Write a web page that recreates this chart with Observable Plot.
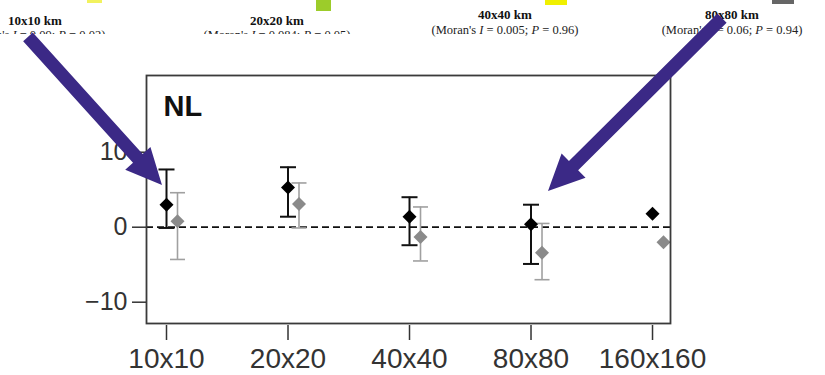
<!DOCTYPE html>
<html><head><meta charset="utf-8">
<script src="https://cdn.jsdelivr.net/npm/d3@7"></script>
<script src="https://cdn.jsdelivr.net/npm/@observablehq/plot@0.6"></script>
<style>
html,body{margin:0;padding:0;background:#fff}
body{width:825px;height:375px;overflow:hidden;position:relative;font-family:"Liberation Sans",Arial,sans-serif}
#header{position:absolute;left:0;top:0;width:825px;height:375px;z-index:0}
#chart{position:absolute;left:0;top:0;width:825px;height:375px;z-index:1}
#chart svg{position:absolute;left:0;top:0}
.hd{position:absolute;font-family:"Liberation Serif","Times New Roman",serif;font-size:12.5px;line-height:12px;color:#222;white-space:nowrap;transform:translateX(-50%)}
.hd.b{font-weight:bold;color:#111;font-size:13px}
.clip{position:absolute;overflow:hidden}
.sw{position:absolute;top:0}
</style></head><body>
<div id="header"></div>
<div id="chart"></div>
<script>
// ---- data ----
const scaleLabels = ["10x10", "20x20", "40x40", "80x80", "160x160"];
const blackMean = [3.0, 5.3, 1.4, 0.4, 1.8];
const blackLow  = [-0.1, 1.4, -2.4, -4.9, null];
const blackHigh = [7.7, 8.0, 4.0, 3.0, null];
const greyMean  = [0.8, 3.1, -1.3, -3.4, -2.0];
const greyLow   = [-4.3, -0.1, -4.5, -7.0, null];
const greyHigh  = [4.6, 5.9, 2.7, 0.5, null];
const yTicks = [-10, 0, 10];
const panelLabel = "NL";
const mapTitles = ["10x10 km", "20x20 km", "40x40 km", "80x80 km"];
const moranI = ["0.09", "0.084", "0.005", "0.06"];
const moranP = ["0.02", "0.05", "0.96", "0.94"];
// annotation arrows in data units (x = scale index, y = value)
const arrowFrom = [[-1.136, 25.3], [4.576, 27.8]];
const arrowTo   = [[-0.033, 5.56], [3.144, 4.76]];

// ---- header (fragments of the figure above) ----
const headerLayout = [
  {cx: 35, ty: 15, my: 29, clip: true},
  {cx: 277, ty: 15, my: 29, clip: true},
  {cx: 505, ty: 9, my: 24, clip: false},
  {cx: 732, ty: 9, my: 24, clip: false}
];
const swatchLayout = [
  {x: 87, w: 15, h: 3, c: "#f2f25e"},
  {x: 316, w: 15, h: 11, c: "#9ccc2a"},
  {x: 545, w: 22, h: 5, c: "#f0f000"},
  {x: 772, w: 22, h: 4, c: "#666"}
];
const header = document.getElementById("header");
swatchLayout.forEach(s => {
  const d = document.createElement("div");
  d.className = "sw";
  Object.assign(d.style, {left: s.x + "px", width: s.w + "px", height: s.h + "px", background: s.c});
  header.appendChild(d);
});
mapTitles.forEach((t, i) => {
  const L = headerLayout[i];
  const a = document.createElement("div");
  a.className = "hd b"; a.textContent = t;
  a.style.left = L.cx + "px"; a.style.top = L.ty + "px";
  header.appendChild(a);
  const m = document.createElement("div");
  m.className = "hd";
  m.innerHTML = `(Moran's <i>I</i> = ${moranI[i]}; <i>P</i> = ${moranP[i]})`;
  if (L.clip) {
    const c = document.createElement("div");
    c.className = "clip";
    Object.assign(c.style, {left: (L.cx - 120) + "px", top: L.my + "px", width: "240px", height: "5px"});
    m.style.left = "120px"; m.style.top = "0px";
    c.appendChild(m);
    header.appendChild(c);
  } else {
    m.style.left = L.cx + "px"; m.style.top = L.my + "px";
    header.appendChild(m);
  }
});

// ---- chart ----
const rows = scaleLabels.map((s, i) => ({
  i, s, bm: blackMean[i], bl: blackLow[i], bh: blackHigh[i],
  gm: greyMean[i], gl: greyLow[i], gh: greyHigh[i]
}));
const blackErr = rows.filter(d => d.bl != null);
const greyErr = rows.filter(d => d.gl != null);
const capSymbol = {draw(ctx, size) { const r = Math.sqrt(size / Math.PI); ctx.moveTo(-r, 0); ctx.lineTo(r, 0); }};
const GDX = 11;
const GREY_BAR = "#a0a0a0";
const GREY_PT = "#8a8a8a";

function arrowMark(index, sc) {
  const g = d3.create("svg:g");
  arrowFrom.forEach((f, k) => {
    const t = arrowTo[k];
    const x1 = sc.x(f[0]), y1 = sc.y(f[1]), x2 = sc.x(t[0]), y2 = sc.y(t[1]);
    const dx = x2 - x1, dy = y2 - y1, L = Math.hypot(dx, dy);
    const ux = dx / L, uy = dy / L, px = -uy, py = ux;
    const hl = 36, hw = 17, sw = 6.5;
    const bx = x2 - ux * hl, by = y2 - uy * hl;
    const pts = [
      [x1 + px * sw, y1 + py * sw], [bx + px * sw, by + py * sw], [bx + px * hw, by + py * hw],
      [x2, y2],
      [bx - px * hw, by - py * hw], [bx - px * sw, by - py * sw], [x1 - px * sw, y1 - py * sw]
    ];
    g.append("polygon").attr("points", pts.map(p => p.join(",")).join(" ")).attr("fill", "#3b2986");
  });
  return g.node();
}

const chart = Plot.plot({
  width: 825, height: 375,
  marginLeft: 146, marginRight: 155, marginTop: 75, marginBottom: 52,
  style: {background: "transparent", fontFamily: "Liberation Sans, Arial, sans-serif", color: "#222", overflow: "visible"},
  x: {type: "linear", domain: [-0.1646, 4.148]},
  y: {domain: [-12.84, 20.23]},
  marks: [
    Plot.ruleY([0], {stroke: "#111", strokeWidth: 1.8, strokeDasharray: "7,4"}),
    Plot.ruleX(greyErr, {x: "i", y1: "gl", y2: "gh", dx: GDX, stroke: GREY_BAR, strokeWidth: 1.6}),
    Plot.dot(greyErr, {x: "i", y: "gl", dx: GDX, symbol: capSymbol, r: 7.5, stroke: GREY_BAR, strokeWidth: 1.6}),
    Plot.dot(greyErr, {x: "i", y: "gh", dx: GDX, symbol: capSymbol, r: 7.5, stroke: GREY_BAR, strokeWidth: 1.6}),
    Plot.dot(rows, {x: "i", y: "gm", dx: GDX, symbol: "diamond2", r: 6.3, fill: GREY_PT, stroke: "none"}),
    Plot.ruleX(blackErr, {x: "i", y1: "bl", y2: "bh", stroke: "#111", strokeWidth: 2}),
    Plot.dot(blackErr, {x: "i", y: "bl", symbol: capSymbol, r: 8, stroke: "#111", strokeWidth: 2}),
    Plot.dot(blackErr, {x: "i", y: "bh", symbol: capSymbol, r: 8, stroke: "#111", strokeWidth: 2}),
    Plot.dot(rows, {x: "i", y: "bm", symbol: "diamond2", r: 6.3, fill: "#000", stroke: "none"}),
    Plot.frame({stroke: "#3a3a3a", strokeWidth: 1.8}),
    Plot.axisY({ticks: yTicks, tickSize: 14, tickPadding: 5, fontSize: 25, color: "#333", strokeWidth: 1.5, label: null,
      tickFormat: d => d < 0 ? "\u2212" + Math.abs(d) : String(d)}),
    Plot.axisX({ticks: [0, 1, 2, 3, 4], tickFormat: i => scaleLabels[i], tickSize: 15, tickPadding: 8, fontSize: 28,
      color: "#333", strokeWidth: 1.5, label: null, dy: 2}),
    Plot.text([panelLabel], {text: d => d, frameAnchor: "top-left", dx: 17, dy: 20, lineAnchor: "top", textAnchor: "start",
      fontSize: 29, fontWeight: "bold", fill: "#111"}),
    arrowMark
  ]
});
document.getElementById("chart").appendChild(chart);
</script>
</body></html>
